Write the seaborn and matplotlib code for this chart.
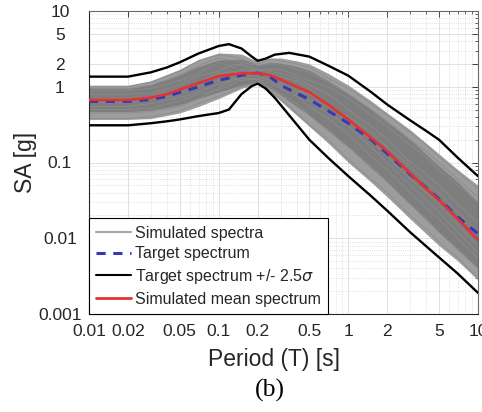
import numpy as np
import pandas as pd
import matplotlib
matplotlib.use("Agg")
import matplotlib.pyplot as plt
import seaborn as sns
from matplotlib.lines import Line2D
from matplotlib.ticker import LogLocator, NullFormatter

# ---- data (periods in s, SA in g) ----
periods = [0.01, 0.02, 0.03, 0.04, 0.05, 0.07, 0.1, 0.12, 0.15, 0.18, 0.2, 0.23,
           0.27, 0.35, 0.5, 0.7, 1, 1.5, 2, 3, 4, 5, 7, 10]
upper_bound = [1.36, 1.36, 1.55, 1.8, 2.1, 2.75, 3.45, 3.65, 3.2, 2.5, 2.2, 2.35,
               2.65, 2.8, 2.5, 1.9, 1.4, 0.85, 0.58, 0.36, 0.26, 0.2, 0.115, 0.066]
lower_bound = [0.31, 0.31, 0.33, 0.35, 0.37, 0.41, 0.45, 0.5, 0.8, 1.02, 1.1, 0.95,
               0.72, 0.42, 0.2, 0.115, 0.066, 0.036, 0.023, 0.012, 0.0078, 0.0056, 0.0034, 0.0019]

mean_periods = [0.01, 0.02, 0.03, 0.04, 0.05, 0.07, 0.1, 0.15, 0.2, 0.25, 0.3, 0.4,
                0.5, 0.7, 1, 1.5, 2, 3, 4, 5, 7, 10]
sim_mean = [0.67, 0.67, 0.72, 0.8, 0.92, 1.12, 1.38, 1.5, 1.5, 1.42, 1.25, 1.0,
            0.85, 0.58, 0.37, 0.21, 0.14, 0.072, 0.045, 0.032, 0.018, 0.0095]
target = [0.64, 0.64, 0.68, 0.75, 0.84, 1.0, 1.22, 1.42, 1.52, 1.35, 1.05, 0.82,
          0.68, 0.48, 0.33, 0.2, 0.13, 0.07, 0.046, 0.033, 0.019, 0.0115]

cloud_periods = [0.01, 0.02, 0.03, 0.05, 0.07, 0.1, 0.15, 0.2, 0.25, 0.3, 0.4, 0.5,
                 0.7, 1, 1.5, 2, 3, 5, 7, 10]
cloud_lo = [0.37, 0.37, 0.38, 0.45, 0.55, 0.7, 0.95, 1.1, 0.85, 0.65, 0.42, 0.3,
            0.18, 0.1, 0.055, 0.035, 0.018, 0.008, 0.005, 0.0028]
cloud_hi = [1.05, 1.05, 1.2, 1.7, 2.3, 2.8, 2.7, 2.15, 2.4, 2.4, 2.2, 2.0,
            1.5, 1.05, 0.65, 0.45, 0.27, 0.13, 0.08, 0.05]
core_lo = [0.47, 0.47, 0.49, 0.58, 0.7, 0.85, 1.05, 1.17, 0.95, 0.78, 0.55, 0.42,
           0.27, 0.16, 0.085, 0.055, 0.028, 0.012, 0.0072, 0.004]
core_hi = [0.95, 0.95, 1.05, 1.45, 1.85, 2.25, 2.3, 1.95, 2.1, 2.05, 1.85, 1.65,
           1.2, 0.82, 0.5, 0.34, 0.2, 0.09, 0.055, 0.03]

sim_periods = [0.01, 0.02, 0.03, 0.05, 0.07, 0.1, 0.13, 0.15, 0.2, 0.25, 0.3, 0.4,
               0.5, 0.7, 1, 1.5, 2, 3, 4, 5, 7, 10]
sim_01 = [1.0, 1.0, 1.15, 1.6, 2.2, 2.6, 2.5, 2.3, 2.0, 2.3, 2.2, 2.0, 1.8, 1.3, 0.95, 0.6, 0.42, 0.25, 0.17, 0.12, 0.075, 0.045]
sim_02 = [0.38, 0.38, 0.4, 0.48, 0.6, 0.75, 0.9, 1.0, 1.15, 0.9, 0.7, 0.45, 0.32, 0.2, 0.11, 0.06, 0.04, 0.02, 0.013, 0.009, 0.0055, 0.003]
sim_03 = [0.9, 0.9, 0.95, 1.2, 1.5, 2.1, 1.8, 2.0, 1.7, 1.6, 1.5, 1.3, 1.05, 0.8, 0.5, 0.3, 0.2, 0.1, 0.07, 0.05, 0.028, 0.016]
sim_04 = [0.45, 0.45, 0.47, 0.55, 0.7, 0.95, 1.3, 1.2, 1.3, 1.1, 0.95, 0.75, 0.55, 0.38, 0.24, 0.12, 0.08, 0.04, 0.025, 0.018, 0.01, 0.0055]
sim_05 = [0.8, 0.8, 0.82, 1.05, 1.4, 1.6, 2.0, 1.9, 1.6, 1.7, 1.7, 1.4, 1.2, 1.0, 0.7, 0.42, 0.3, 0.17, 0.12, 0.08, 0.05, 0.03]
sim_06 = [0.55, 0.55, 0.6, 0.72, 0.85, 1.1, 1.2, 1.45, 1.4, 1.2, 1.0, 0.85, 0.65, 0.45, 0.3, 0.16, 0.1, 0.05, 0.032, 0.022, 0.012, 0.0065]
sim_07 = [0.7, 0.7, 0.75, 0.95, 1.15, 1.5, 1.6, 1.4, 1.5, 1.5, 1.35, 1.2, 0.95, 0.55, 0.4, 0.25, 0.16, 0.09, 0.055, 0.04, 0.022, 0.012]
sim_08 = [0.62, 0.62, 0.66, 0.8, 1.0, 1.2, 1.5, 1.7, 1.6, 1.3, 1.1, 0.9, 0.8, 0.6, 0.35, 0.2, 0.12, 0.06, 0.04, 0.028, 0.015, 0.008]
sim_09 = [0.5, 0.5, 0.52, 0.65, 0.8, 0.9, 1.1, 1.3, 1.25, 1.0, 0.8, 0.6, 0.42, 0.26, 0.16, 0.09, 0.055, 0.028, 0.018, 0.012, 0.007, 0.004]
sim_10 = [0.95, 0.95, 1.05, 1.4, 1.9, 2.4, 2.2, 2.1, 1.9, 2.0, 2.0, 1.7, 1.55, 1.15, 0.8, 0.5, 0.35, 0.2, 0.14, 0.1, 0.06, 0.035]

x_ticks = [0.01, 0.02, 0.05, 0.1, 0.2, 0.5, 1, 2, 5, 10]
x_labels = ["0.01", "0.02", "0.05", "0.1", "0.2", "0.5", "1", "2", "5", "10"]
y_ticks = [0.001, 0.01, 0.1, 1, 2, 5, 10]
y_labels = ["0.001", "0.01", "0.1", "1", "2", "5", "10"]

# long table of simulated spectra for seaborn
sims = [sim_01, sim_02, sim_03, sim_04, sim_05, sim_06, sim_07, sim_08, sim_09, sim_10]
sim_df = pd.concat(
    [pd.DataFrame({"period": sim_periods, "sa": s, "run": i}) for i, s in enumerate(sims)],
    ignore_index=True)

sns.set_theme(style="white")
plt.rcParams["font.family"] = ["Liberation Sans", "DejaVu Sans"]

fig = plt.figure(figsize=(4.82, 4.12), dpi=100)
ax = fig.add_axes([89 / 482, 1 - 314 / 412, 389 / 482, 303 / 412])
ax.set_xscale("log")
ax.set_yscale("log")

# gray cloud of simulated spectra
ax.fill_between(cloud_periods, cloud_lo, cloud_hi, color="#9d9d9d", lw=0, zorder=1)
ax.fill_between(cloud_periods, core_lo, core_hi, color="#7e7e7e", lw=0, zorder=1.1)
sns.lineplot(data=sim_df, x="period", y="sa", units="run", estimator=None,
             color="#8c8c8c", lw=0.6, ax=ax, legend=False, zorder=2)

sns.lineplot(x=periods, y=upper_bound, color="black", lw=1.7, ax=ax, zorder=3)
sns.lineplot(x=periods, y=lower_bound, color="black", lw=1.7, ax=ax, zorder=3)
sns.lineplot(x=mean_periods, y=target, color="#3737b8", lw=2.2, ax=ax, zorder=4,
             linestyle=(0, (3, 2.5)))
sns.lineplot(x=mean_periods, y=sim_mean, color="#e23232", lw=1.9, ax=ax, zorder=5)

ax.set_xlim(0.01, 10)
ax.set_ylim(0.001, 10)
ax.set_xticks(x_ticks, x_labels)
ax.set_yticks(y_ticks, y_labels)
ax.xaxis.set_minor_locator(LogLocator(base=10, subs=np.arange(2, 10), numticks=20))
ax.yaxis.set_minor_locator(LogLocator(base=10, subs=np.arange(2, 10), numticks=20))
ax.xaxis.set_minor_formatter(NullFormatter())
ax.yaxis.set_minor_formatter(NullFormatter())

ax.grid(True, which="major", color="#dcdcdc", lw=0.6, ls="-")
ax.grid(True, which="minor", color="#d6d6d6", lw=0.6, ls=":")
ax.set_axisbelow(True)

ax.tick_params(which="both", direction="in", top=True, right=True,
               colors="#262626", labelsize=12.5)
ax.tick_params(which="major", length=4, width=0.6)
ax.tick_params(which="minor", length=2, width=0.5)
ax.tick_params(axis="x", pad=7)
ax.tick_params(axis="y", pad=21)
for lab in ax.get_yticklabels():
    lab.set_horizontalalignment("center")

for side in ["left", "bottom"]:
    ax.spines[side].set_color("#262626")
    ax.spines[side].set_linewidth(0.8)
for side in ["top", "right"]:
    ax.spines[side].set_color("#6a6a6a")
    ax.spines[side].set_linewidth(0.8)

ax.set_xlabel("Period (T) [s]", fontsize=16.5, color="#262626", va="top")
ax.xaxis.set_label_coords((274 - 89) / 389, -0.112)
ax.set_ylabel("SA [g]", fontsize=16.5, color="#262626")
ax.yaxis.set_label_coords((37 - 89) / 389, 0.5)

handles = [
    Line2D([], [], color="#a6a6a6", lw=1.5),
    Line2D([], [], color="#3737b8", lw=2.2, linestyle=(0, (3, 2.5))),
    Line2D([], [], color="black", lw=1.5),
    Line2D([], [], color="#e23232", lw=2.0),
]
labels = ["Simulated spectra", "Target spectrum",
          r"Target spectrum +/- 2.5$\sigma$", "Simulated mean spectrum"]
leg = ax.legend(handles, labels, loc="lower left", borderaxespad=0, fontsize=11.5,
                frameon=True, fancybox=False, framealpha=1, edgecolor="black",
                borderpad=0.45, labelspacing=0.36, handlelength=2.2, handletextpad=0.25)
leg.get_frame().set_linewidth(0.8)
leg.set_zorder(10)

fig.text(270 / 482, 1 - 390 / 412, "(b)", family=["Liberation Serif", "DejaVu Serif"],
         fontsize=18.5, ha="center", va="center", color="black")

fig.savefig("out.png", dpi=100)
